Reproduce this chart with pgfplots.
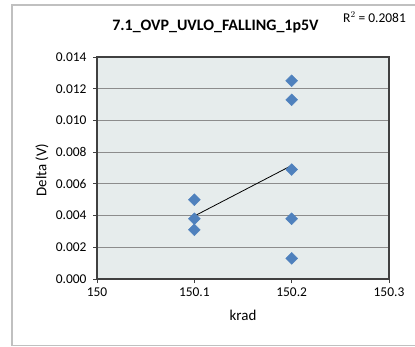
\documentclass[border=0pt]{standalone}
\usepackage{pgfplots}
\pgfplotsset{compat=1.18}
\usepackage{fontspec}
\setmainfont{Carlito}
\definecolor{bgc}{HTML}{E6ECEC}
\definecolor{mk}{HTML}{4F81BD}
\definecolor{frm}{HTML}{404040}
\definecolor{grd}{HTML}{8C8C8C}
\definecolor{outer}{HTML}{C0C0C0}
\begin{document}
\begin{tikzpicture}[x=1bp,y=1bp]
\begin{axis}[at={(0,0)}, anchor=south west, scale only axis,
  width=292bp, height=222bp,
  xmin=150, xmax=150.3, ymin=0, ymax=0.014,
  xtick={150,150.1,150.2,150.3}, xticklabels={150,150.1,150.2,150.3},
  ytick={0,0.002,0.004,0.006,0.008,0.010,0.012,0.014},
  yticklabels={0.000,0.002,0.004,0.006,0.008,0.010,0.012,0.014},
  ymajorgrids, grid style={grd, line width=0.8pt},
  axis background/.style={fill=bgc},
  axis line style={frm, line width=1.5pt},
  tick style={frm, line width=0.8pt}, tick align=outside, major tick length=4bp,
  xtick pos=left, ytick pos=left,
  tick label style={font=\fontsize{13.5}{15}\selectfont, text=black},
  yticklabel style={xshift=-3bp},
  xticklabel style={yshift=-1.5bp},
  scaled ticks=false,
]
\addplot[only marks, mark=square*, mark size=4.2bp, mark options={rotate=45, fill=mk, draw=mk}]
  coordinates {(150.1,0.0050) (150.1,0.0038) (150.1,0.0031)
               (150.2,0.0125) (150.2,0.0113) (150.2,0.0069) (150.2,0.0038) (150.2,0.0013)};
\addplot[black, line width=0.8pt, no marks] coordinates {(150.1,0.00397) (150.2,0.00716)};
\end{axis}
\draw[outer, line width=1.5pt] (-85,-66.5) rectangle (340,274);
\node[font=\fontsize{16}{18}\selectfont\bfseries] at (118.5,252) {7.1\_OVP\_UVLO\_FALLING\_1p5V};
\node[font=\fontsize{13.5}{15}\selectfont, anchor=west, inner sep=0pt] at (246,262) {R$^2$ = 0.2081};
\node[font=\fontsize{15}{17}\selectfont, rotate=90] at (-55,109) {Delta (V)};
\node[font=\fontsize{15}{17}\selectfont] at (146,-36) {krad};
\pgfresetboundingbox
\path[use as bounding box] (-97,-68) rectangle (318,279);
\end{tikzpicture}
\end{document}
